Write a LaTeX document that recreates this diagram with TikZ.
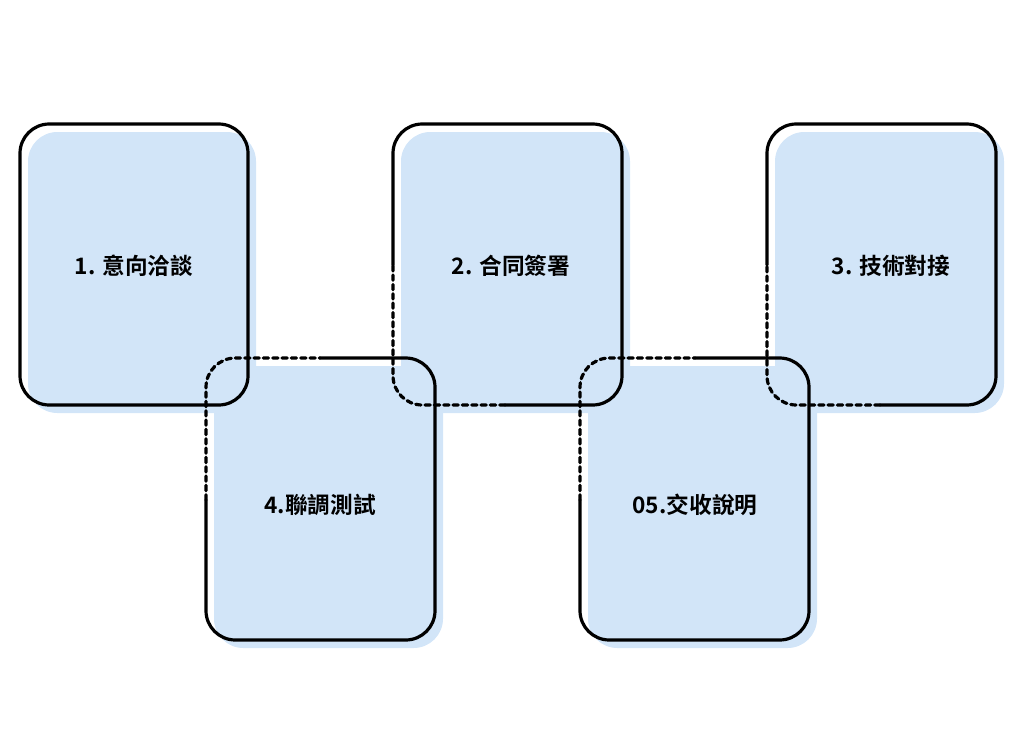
\documentclass[tikz,border=0pt]{standalone}
\usepackage{fontspec}
\setmainfont{Noto Sans CJK TC}[BoldFont={* Bold}]
\begin{document}
\begin{tikzpicture}[x=0.75pt,y=-0.75pt,
  sh/.style={fill=cardblue,rounded corners=22},
  ol/.style={line width=2.4pt,rounded corners=22,line cap=round},
  dl/.style={ol,dash pattern=on 4pt off 3pt},
  lab/.style={font=\bfseries\fontsize{17}{20}\selectfont}]
\definecolor{cardblue}{HTML}{D2E5F8}
\useasboundingbox (0,0) rectangle (1024,732);
% shadows
\fill[sh] (28,132) rectangle (256,413);
\fill[sh] (401,132) rectangle (630,413);
\fill[sh] (775,132) rectangle (1004,413);
\fill[sh] (214,366) rectangle (443,648);
\fill[sh] (588,366) rectangle (817,648);
% card 1
\draw[ol] (20,124) rectangle (248,405);
% card 2
\draw[ol] (393,265) -- (393,124) -- (622,124) -- (622,405) -- (505,405);
\draw[dl] (505,405) -- (393,405) -- (393,265);
% card 3
\draw[ol] (767,265) -- (767,124) -- (996,124) -- (996,405) -- (880,405);
\draw[dl] (880,405) -- (767,405) -- (767,265);
% card 4
\draw[ol] (320,358) -- (435,358) -- (435,640) -- (206,640) -- (206,500);
\draw[dl] (206,500) -- (206,358) -- (320,358);
% card 5
\draw[ol] (695,358) -- (809,358) -- (809,640) -- (580,640) -- (580,500);
\draw[dl] (580,500) -- (580,358) -- (695,358);
% labels
\node[lab] (t1) at (134,266) {1. 意向洽談};
\node[lab] (t2) at (511,266) {2. 合同簽署};
\node[lab] (t3) at (891,266) {3. 技術對接};
\node[lab] (t4) at (320,505) {4.聯調測試};
\node[lab] (t5) at (695,505) {05.交收說明};
\end{tikzpicture}
\end{document}
